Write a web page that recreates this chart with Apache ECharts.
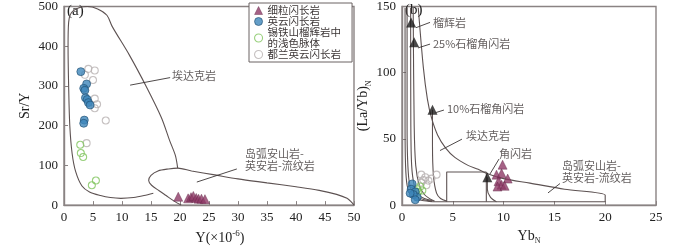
<!DOCTYPE html>
<html>
<head>
<meta charset="utf-8">
<script src="https://cdn.jsdelivr.net/npm/echarts@6/dist/echarts.min.js"></script>
<style>
  html, body { margin: 0; padding: 0; background: #fff; }
  #chart { width: 700px; height: 250px; }
</style>
</head>
<body>
<div id="chart"></div>
<script>
// ---- panel (a): Sr/Y vs Y ----
const fineA = [[19.7,21],[21.4,17],[21.9,20],[22.3,23],[22.8,18],[23.2,16],[23.7,16],[24.3,15]]
const tonaliteA = [[2.9,336],[3.9,305],[3.4,294],[3.6,289],[3.7,270],[4.0,266],[4.2,258],[4.5,252],[3.5,214],[3.4,206]]
const veinA = [[2.8,152],[2.9,131],[3.3,121],[5.5,62],[4.8,50]]
const dulanA = [[4.2,343],[5.3,339],[3.6,328],[5.0,315],[3.6,292],[5.3,268],[5.7,254],[5.3,244],[7.2,213],[3.9,156]]

// field boundaries (a)
const adakiteA = [[15.4,30],[13.8,24],[12,19],[9.8,17],[8,19],[6.3,24],[4.4,33],[3.1,48],[2.0,85],[1.4,130],[1.0,200],[0.8,300],[0.7,400],[0.8,460],[1.3,485],[2.6,497],[4,500],[5.8,494],[7.4,478],[8.3,450],[11.3,377],[14.2,298],[16.8,220],[18.2,163],[19.2,125],[19.6,93]]
const arcA = [[20.2,0],[19,10],[17.6,24],[16.4,36],[15.1,50],[14.6,62],[15,75],[16.2,86],[18,91],[19.6,93],[22,86],[26,76],[30,66],[35,56],[40,46],[44,37],[47,27],[48.8,17],[49.6,7],[50,0]]

// ---- panel (b): (La/Yb)N vs YbN ----
const fineB = [[9.9,30.5],[9.3,23],[9.8,24],[10.4,20],[9.5,18],[9.8,15.4],[9.4,14],[10.1,14.6]]
const tonaliteB = [[1.0,16],[0.9,12],[1.3,10],[1.5,6],[1.1,8],[1.3,4],[0.8,9]]
const veinB = [[1.5,12],[1.8,14],[1.3,9],[2.0,11],[1.6,10]]
const dulanB = [[1.9,23],[2.3,21],[3.4,23],[2.6,18.5],[1.9,17],[2.4,15],[2.9,20],[2.1,19]]
const modelB = [[0.9,138],[1.2,123],[3.0,72],[8.4,21]]

// melting curves / fields (b)
const curveB1 = [[0.3,149],[0.3,60],[0.35,30],[0.5,15],[0.8,8],[1.3,5],[2,3.5],[3,2.6]]
const curveB2 = [[0.5,149],[0.5,60],[0.55,35],[0.7,18],[1.0,10],[1.5,6],[2.2,4],[3,3]]
const eclogiteB = [[0.85,149],[0.87,60],[0.95,30],[1.2,15],[1.6,8],[2.2,5],[3,3.5]]
const garnet25B = [[1.1,149],[1.2,60],[1.35,30],[1.7,15],[2.2,8],[2.8,4.5],[3.2,3]]
const adakiteB = [[1.6,149],[2.1,104],[2.5,80],[2.9,66],[3.5,53],[4.3,43],[5.2,36],[6.5,30],[7.5,27],[8.3,24],[10,20],[12.6,16.6],[16,12],[20,7.5],[20,2.5]]
const garnet10B = [[3.0,72],[3.0,45],[3.1,22],[3.4,9],[3.8,5],[4.4,3]]
const amphB = [[8.4,21],[8.4,12],[8.7,6],[9.3,2.5]]
const arcBoxB = [[4.4,2.5],[4.4,25],[8.3,25]]
const arcSideB = [[8.3,25],[8.3,2.5]]
const baseB = [[3,2.5],[20,2.5]]

// annotations: [x, y, text], arrows: [[x1,y1],[x2,y2]]
const notesA = [[18.6,326,'埃达克岩'],[31.2,114,'岛弧安山岩-\n英安岩-流纹岩']]
const arrowsA = [[[18.3,321],[11.4,302]],[[29.8,91],[22.9,58]]]
const notesB = [[3.05,138,'榴辉岩'],[3.05,122,'25%石榴角闪岩'],[4.43,73,'10%石榴角闪岩'],[6.3,52.6,'埃达克岩'],[9.55,39,'角闪岩'],[15.75,24.9,'岛弧安山岩-\n英安岩-流纹岩']]
const arrowsB = [[[2.76,138],[1.38,134]],[[2.76,121.6],[1.57,118.7]],[[4.13,71.8],[3.25,69.7]],[[5.9,49.8],[3.74,41.2]],[[9.55,34.8],[8.66,23.5]],[[15.55,16.3],[14.37,9.2]]]

const cjk = '"Noto Sans CJK SC", sans-serif'
const serif = '"Liberation Serif", "DejaVu Serif", serif'
const lineColor = '#5d5252'
const frameColor = '#8a8383'
const textColor = '#3b3535'

const chart = echarts.init(document.getElementById('chart'), null, { renderer: 'canvas' })

function boundary(data, i) {
  return {
    type: 'line', xAxisIndex: i, yAxisIndex: i, data, symbol: 'none', silent: true,
    smooth: 0.3, lineStyle: { color: lineColor, width: 1.1 }, z: 1
  }
}

function notes(items, arrows, i) {
  return {
    type: 'scatter', xAxisIndex: i, yAxisIndex: i, symbolSize: 0, silent: true, z: 5,
    data: items.map(t => ({
      value: [t[0], t[1]],
      label: {
        show: true, position: 'right', distance: 0, formatter: t[2],
        fontFamily: cjk, fontSize: 11, lineHeight: 12, color: textColor
      }
    })),
    markLine: {
      silent: true, symbol: ['none', 'arrow'], symbolSize: [0, 6], animation: false,
      lineStyle: { color: '#3b3535', width: 0.9, type: 'solid' },
      label: { show: false },
      data: arrows.map(a => [{ coord: a[0] }, { coord: a[1] }])
    }
  }
}

const styles = {
  fine: { symbol: 'triangle', symbolSize: 9, itemStyle: { color: '#8e3a67', borderColor: '#5e2343', borderWidth: 0.5 } },
  tonalite: { symbol: 'circle', symbolSize: 8, itemStyle: { color: '#3d86ba', borderColor: '#1f4d70', borderWidth: 0.8 } },
  vein: { symbol: 'circle', symbolSize: 7, itemStyle: { color: 'rgba(255,255,255,0)', borderColor: '#80c45c', borderWidth: 1.1 } },
  dulan: { symbol: 'circle', symbolSize: 7, itemStyle: { color: 'rgba(255,255,255,0)', borderColor: '#b7b0b0', borderWidth: 1.1 } }
}
const names = { fine: '细粒闪长岩', tonalite: '英云闪长岩', vein: '锡铁山榴辉岩中\n的浅色脉体', dulan: '都兰英云闪长岩' }

function pts(key, data, i) {
  return Object.assign({ type: 'scatter', name: names[key], xAxisIndex: i, yAxisIndex: i, data, z: 3 }, styles[key])
}

function axisCommon() {
  return {
    axisLine: { show: true, lineStyle: { color: frameColor, width: 1.4 } },
    axisTick: { show: true, inside: true, length: 4, lineStyle: { color: frameColor } },
    splitLine: { show: false },
    axisLabel: { fontFamily: serif, fontSize: 13, color: '#222', margin: 6 }
  }
}

chart.setOption({
  animation: false,
  grid: [
    { left: 64, top: 5, width: 290, height: 210, show: true, borderColor: frameColor, borderWidth: 1.4 },
    { left: 402, top: 3, width: 254, height: 211, show: true, borderColor: frameColor, borderWidth: 1.4 }
  ],
  xAxis: [
    Object.assign(axisCommon(), {
      type: 'value', gridIndex: 0, min: 0, max: 50, interval: 5,
      name: '{a|Y(×10}{s|-6}{a|)}', nameLocation: 'middle', nameGap: 21,
      nameTextStyle: { padding: [0, 0, 0, 22], rich: { a: { fontFamily: serif, fontSize: 14, color: '#222', lineHeight: 16, verticalAlign: 'bottom' }, s: { fontFamily: serif, fontSize: 9, color: '#222', lineHeight: 16, verticalAlign: 'top' } } }
    }),
    Object.assign(axisCommon(), {
      type: 'value', gridIndex: 1, min: 0, max: 25, interval: 5,
      name: '{a|Yb}{s|N}', nameLocation: 'middle', nameGap: 20,
      nameTextStyle: { rich: { a: { fontFamily: serif, fontSize: 14, color: '#222', lineHeight: 16, verticalAlign: 'top' }, s: { fontFamily: serif, fontSize: 8, color: '#222', lineHeight: 16, verticalAlign: 'bottom' } } }
    })
  ],
  yAxis: [
    Object.assign(axisCommon(), {
      type: 'value', gridIndex: 0, min: 0, max: 500, interval: 100,
      name: 'Sr/Y', nameLocation: 'middle', nameRotate: 90, nameGap: 32,
      nameTextStyle: { fontFamily: serif, fontSize: 14, color: '#222' }
    }),
    Object.assign(axisCommon(), {
      type: 'value', gridIndex: 1, min: 0, max: 150, interval: 50,
      name: '{a|(La/Yb)}{s|N}', nameLocation: 'middle', nameRotate: 90, nameGap: 27,
      nameTextStyle: { rich: { a: { fontFamily: serif, fontSize: 14, color: '#222', lineHeight: 16, verticalAlign: 'top' }, s: { fontFamily: serif, fontSize: 8, color: '#222', lineHeight: 16, verticalAlign: 'bottom' } } }
    })
  ],
  legend: {
    left: 249, top: 3, orient: 'vertical', itemWidth: 8, itemHeight: 8, itemGap: 0,
    padding: [2, 11, 2, 5], borderColor: '#6b6262', borderWidth: 1, borderRadius: 0, backgroundColor: '#fff',
    textStyle: { fontFamily: cjk, fontSize: 10.5, lineHeight: 11, color: textColor },
    selectedMode: false,
    data: [
      { name: names.fine, icon: 'triangle', itemStyle: { color: '#8e3a67', borderColor: '#5e2343', borderWidth: 0.5 } },
      { name: names.tonalite, icon: 'circle', itemStyle: { color: '#3d86ba', borderColor: '#1f4d70', borderWidth: 0.8 } },
      { name: names.vein, icon: 'circle', itemStyle: { color: '#fff', borderColor: '#80c45c', borderWidth: 1.1 } },
      { name: names.dulan, icon: 'circle', itemStyle: { color: '#fff', borderColor: '#b7b0b0', borderWidth: 1.1 } }
    ]
  },
  graphic: [
    { type: 'text', left: 67, top: 4, style: { text: '(a)', font: '15px "Liberation Serif"', fill: '#222' } },
    { type: 'text', left: 405, top: 3, style: { text: '(b)', font: '15px "Liberation Serif"', fill: '#222' } }
  ],
  series: [
    boundary(adakiteA, 0), boundary(arcA, 0),
    boundary(curveB1, 1), boundary(curveB2, 1), boundary(eclogiteB, 1), boundary(garnet25B, 1),
    boundary(adakiteB, 1), boundary(garnet10B, 1), boundary(amphB, 1),
    Object.assign(boundary(arcBoxB, 1), { smooth: false }), Object.assign(boundary(arcSideB, 1), { smooth: false }),
    Object.assign(boundary(baseB, 1), { smooth: false }),
    notes(notesA, arrowsA, 0), notes(notesB, arrowsB, 1),
    pts('dulan', dulanA, 0), pts('vein', veinA, 0), pts('tonalite', tonaliteA, 0), pts('fine', fineA, 0),
    pts('dulan', dulanB, 1), pts('vein', veinB, 1), pts('tonalite', tonaliteB, 1), pts('fine', fineB, 1),
    { type: 'scatter', xAxisIndex: 1, yAxisIndex: 1, data: modelB, symbol: 'triangle', symbolSize: 10, z: 4, itemStyle: { color: '#1c1a1a' } }
  ]
})
</script>
</body>
</html>
